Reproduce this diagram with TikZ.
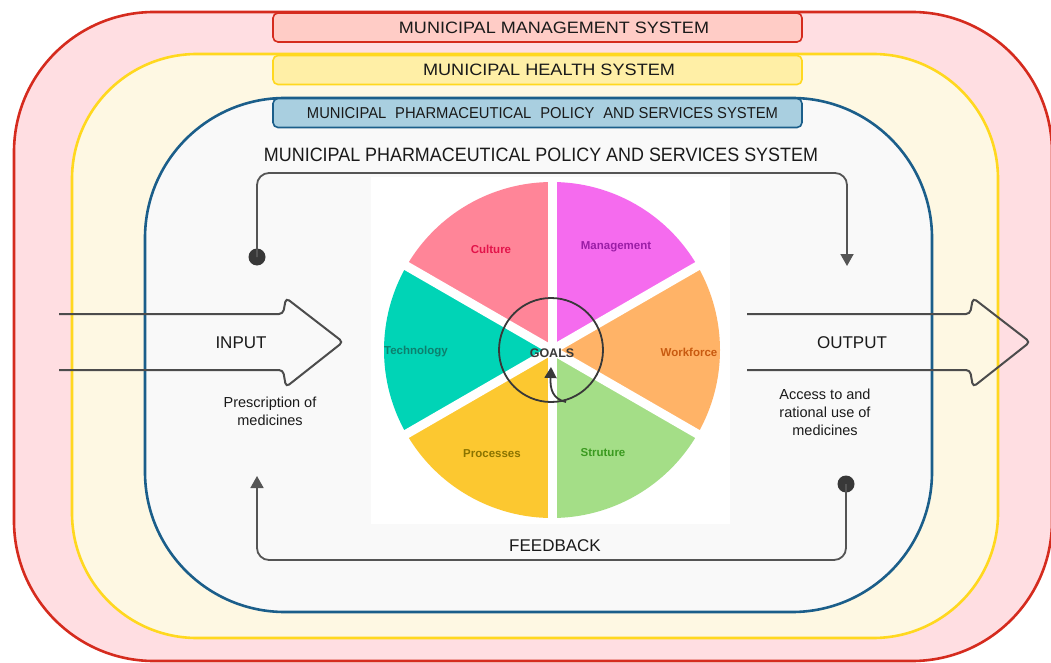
\documentclass[tikz,border=0pt]{standalone}
\usepackage{fontspec}
\setmainfont{Liberation Sans}
\usetikzlibrary{arrows.meta}
\definecolor{redln}{HTML}{D52B1E}
\definecolor{redfill}{HTML}{FFDEE2}
\definecolor{redlab}{HTML}{FFCCC6}
\definecolor{yelln}{HTML}{FFD81F}
\definecolor{yelfill}{HTML}{FEF8E3}
\definecolor{yellab}{HTML}{FFEFA6}
\definecolor{blueln}{HTML}{1B5E8A}
\definecolor{bluefill}{HTML}{F9F9F9}
\definecolor{bluelab}{HTML}{A9CFE0}
\definecolor{txt}{HTML}{1A1A1A}
\definecolor{conn}{HTML}{555555}
\definecolor{dotc}{HTML}{383838}
\definecolor{cCult}{HTML}{FF8598}
\definecolor{cMan}{HTML}{F56BEE}
\definecolor{cWork}{HTML}{FFB367}
\definecolor{cStru}{HTML}{A4DE87}
\definecolor{cProc}{HTML}{FCC830}
\definecolor{cTech}{HTML}{00D4B6}
\definecolor{tCult}{HTML}{E3134A}
\definecolor{tMan}{HTML}{9A1DA6}
\definecolor{tWork}{HTML}{C85A10}
\definecolor{tStru}{HTML}{3B9A20}
\definecolor{tProc}{HTML}{8A7300}
\definecolor{tTech}{HTML}{0D7F6E}
\newcommand{\capfit}[3]{\resizebox{#1pt}{#2pt}{#3}}
\begin{document}
\begin{tikzpicture}[x=1pt,y=-1pt,
  labbox/.style={draw, rounded corners=5pt, line width=1.6pt, minimum width=529pt, minimum height=29pt, inner sep=0pt},
  plain/.style={inner sep=0pt, text=txt},
  blockarrow/.style={draw=conn!90!black, line width=2pt, rounded corners=4pt},
  connector/.style={draw=conn, line width=1.8pt, rounded corners=12pt},
  tip/.style={-{Triangle[length=12pt,width=13pt]}},
  dotend/.style={fill=dotc},
  seclab/.style={inner sep=0pt, font=\fontsize{11.5}{13}\selectfont\bfseries}
]
\useasboundingbox (0,0) rectangle (1051,663);
% nested system boxes
\draw[fill=redfill, draw=redln, line width=2.6pt, rounded corners=140pt] (14,12) rectangle (1052,661);
\draw[fill=yelfill, draw=yelln, line width=2.6pt, rounded corners=125pt] (72,54) rectangle (998,638);
\draw[fill=bluefill, draw=blueln, line width=2.6pt, rounded corners=140pt] (145,98) rectangle (932,612);
% label boxes
\node[labbox, draw=redln, fill=redlab] (mms) at (537.5,27.5) {};
\node[plain] at (554,27.5) {\capfit{310}{11.5}{MUNICIPAL MANAGEMENT SYSTEM}};
\node[labbox, draw=yelln, fill=yellab] (mhs) at (537.5,70) {};
\node[plain] at (549,70) {\capfit{252}{11.5}{MUNICIPAL HEALTH SYSTEM}};
\node[labbox, draw=blueln, fill=bluelab] (mpp) at (537.5,113) {};
\node[plain] at (542.5,113.5) {\capfit{471}{11}{MUNICIPAL\hspace{0.6em}PHARMACEUTICAL\hspace{0.6em}POLICY\hspace{0.6em}AND SERVICES SYSTEM}};
\node[plain] (head) at (541,155) {\capfit{554}{13.5}{MUNICIPAL PHARMACEUTICAL POLICY AND SERVICES SYSTEM}};
% wheel background
\fill[white] (371,177) rectangle (730,524);
% wheel
\begin{scope}[shift={(552,350)}, x=1pt, y=1pt]
  \fill[cMan] (0,0) -- (30:168) arc[start angle=30, end angle=90, radius=168] -- cycle;
  \fill[cCult] (0,0) -- (90:168) arc[start angle=90, end angle=150, radius=168] -- cycle;
  \fill[cTech] (0,0) -- (150:168) arc[start angle=150, end angle=210, radius=168] -- cycle;
  \fill[cProc] (0,0) -- (210:168) arc[start angle=210, end angle=270, radius=168] -- cycle;
  \fill[cStru] (0,0) -- (270:168) arc[start angle=270, end angle=330, radius=168] -- cycle;
  \fill[cWork] (0,0) -- (-30:168) arc[start angle=-30, end angle=30, radius=168] -- cycle;
  \draw[white, line width=9pt] (90:172) -- (270:172);
  \draw[white, line width=9pt] (30:172) -- (210:172);
  \draw[white, line width=9pt] (150:172) -- (-30:172);
\end{scope}
\node[seclab, text=tCult] (cult) at (491,249) {Culture};
\node[seclab, text=tMan] (man) at (616,247) {Management};
\node[seclab, text=tWork] (work) at (689,352) {Workforce};
\node[seclab, text=tStru] (stru) at (603,453) {Struture};
\node[seclab, text=tProc] (proc) at (492,454) {Processes};
\node[seclab, text=tTech] (tech) at (416,352) {Technology};
\node[inner sep=0pt, font=\fontsize{12.5}{14}\selectfont\bfseries, text=dotc] (goals) at (552,353) {GOALS};
\draw[dotc, line width=1.8pt] (551,350) circle[radius=52];
\draw[dotc, line width=1.8pt, -{Triangle[length=11pt,width=12pt]}] (566,402) .. controls (553,399) and (550,390) .. (551,367);
% input arrow
\draw[blockarrow] (59,314) -- (283,314) -- (286,298) -- (343,342) -- (286,387) -- (283,370) -- (59,370);
\node[plain, font=\fontsize{17}{20}\selectfont] (input) at (241,343) {INPUT};
\node[plain, align=center, font=\fontsize{14.5}{18}\selectfont] (inputtxt) at (270,411) {Prescription of\\medicines};
% output arrow
\draw[blockarrow] (747,314) -- (970,314) -- (973,298) -- (1030,342) -- (973,387) -- (970,370) -- (747,370);
\node[plain, font=\fontsize{17}{20}\selectfont] (output) at (852,343) {OUTPUT};
\node[plain, align=center, font=\fontsize{14.5}{18}\selectfont] (outputtxt) at (825,412) {Access to and\\rational use of\\medicines};
% top loop connector
\coordinate (topstart) at (257,257);
\coordinate (topend) at (847,266);
\fill[dotend] (topstart) circle[radius=8.5];
\draw[connector, tip] (topstart) -- (257,173) -- (847,173) -- (topend);
% feedback connector
\coordinate (fbstart) at (846,484);
\coordinate (fbend) at (257,476);
\fill[dotend] (fbstart) circle[radius=8.5];
\draw[connector, tip] (fbstart) -- (846,560) -- (257,560) -- (fbend);
\node[plain, font=\fontsize{17}{20}\selectfont] (feedback) at (555,546) {FEEDBACK};
\end{tikzpicture}
\end{document}
